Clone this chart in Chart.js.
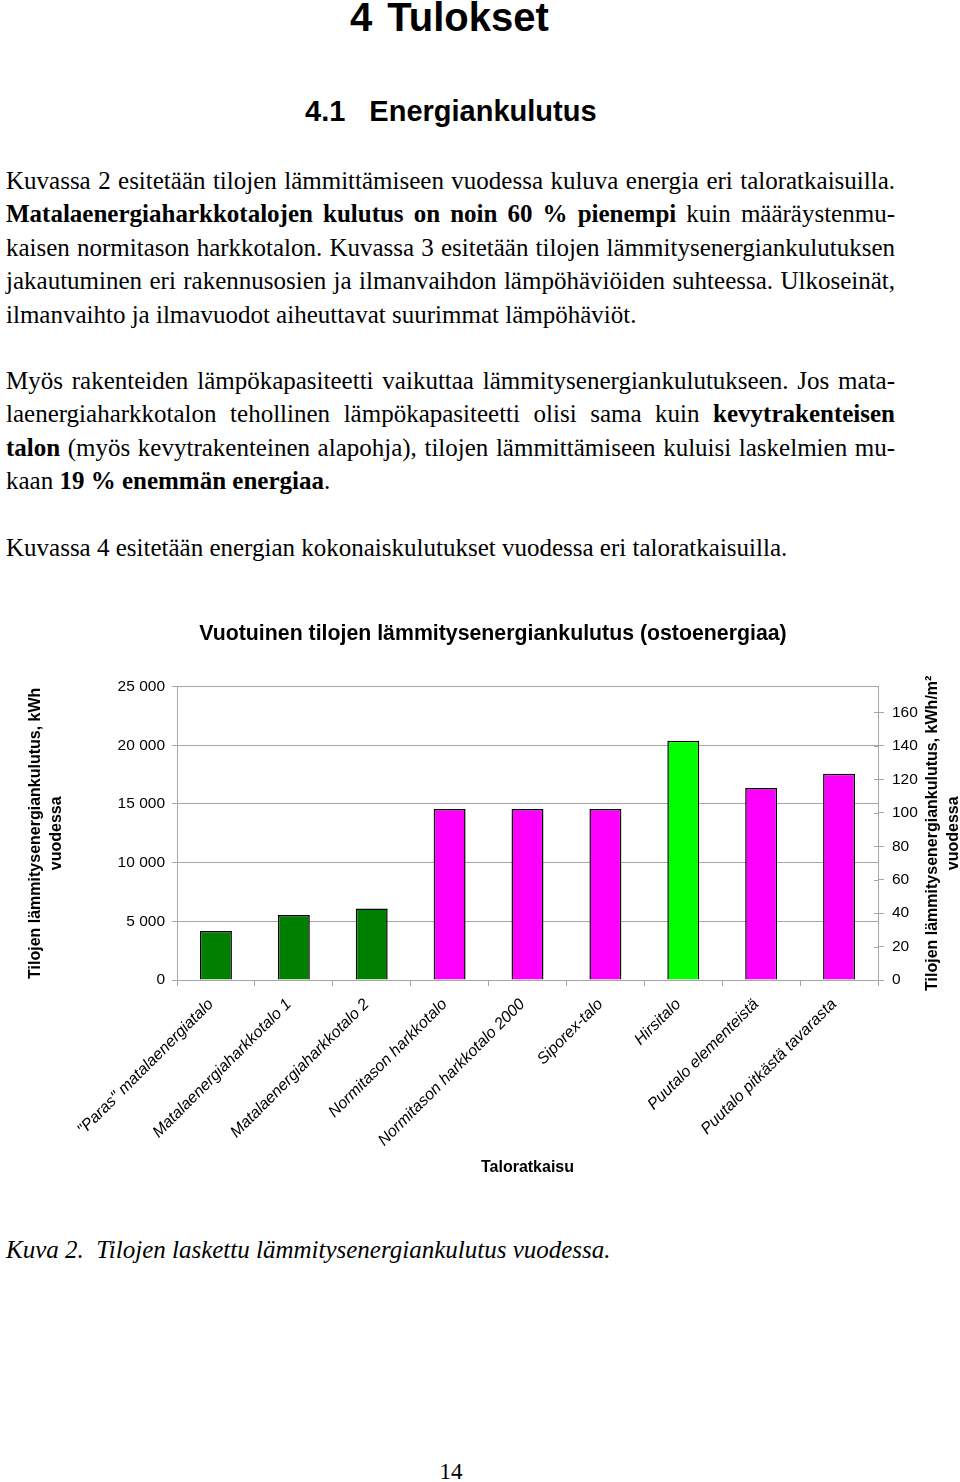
<!DOCTYPE html>
<html lang="fi">
<head>
<meta charset="utf-8">
<title>4 Tulokset</title>
<script src="https://cdn.jsdelivr.net/npm/chart.js@4.4.1/dist/chart.umd.min.js"></script>
<style>
  html, body { margin: 0; padding: 0; background: #fff; }
  body { width: 960px; height: 1482px; position: relative; overflow: hidden; color: #000; }
  .h1, .h2 { position: absolute; font-family: "Liberation Sans", Arial, sans-serif; font-weight: bold; white-space: nowrap; }
  .h1 { left: 350px; top: -5px; font-size: 40px; line-height: 44px; }
  .h2 { left: 305px; top: 94px; font-size: 29px; line-height: 34px; }
  .h1 span { margin-left: 15px; }
  .h2 span { margin-left: 24px; }
  .text { position: absolute; left: 6px; width: 889px; font-family: "Liberation Serif", "Times New Roman", serif; font-size: 25px; line-height: 33.4px; }
  .text div { text-align: justify; text-align-last: justify; white-space: nowrap; }
  .text div.last { text-align-last: left; }
  #chartBox { position: absolute; left: 0; top: 600px; width: 960px; height: 600px; }
  .caption { position: absolute; left: 6px; top: 1233px; font-family: "Liberation Serif", "Times New Roman", serif; font-style: italic; font-size: 25px; line-height: 34px; white-space: pre; }
  .pageno { position: absolute; left: 0; width: 902px; top: 1458px; text-align: center; font-family: "Liberation Serif", "Times New Roman", serif; font-size: 23px; line-height: 28px; }
</style>
</head>
<body>
<div class="h1">4<span>Tulokset</span></div>
<div class="h2">4.1<span>Energiankulutus</span></div>

<div class="text" style="top:164px">
  <div>Kuvassa 2 esitetään tilojen lämmittämiseen vuodessa kuluva energia eri taloratkaisuilla.</div>
  <div><b>Matalaenergiaharkkotalojen kulutus on noin 60 % pienempi</b> kuin määräystenmu-</div>
  <div>kaisen normitason harkkotalon. Kuvassa 3 esitetään tilojen lämmitysenergiankulutuksen</div>
  <div>jakautuminen eri rakennusosien ja ilmanvaihdon lämpöhäviöiden suhteessa. Ulkoseinät,</div>
  <div class="last">ilmanvaihto ja ilmavuodot aiheuttavat suurimmat lämpöhäviöt.</div>
</div>

<div class="text" style="top:364px">
  <div>Myös rakenteiden lämpökapasiteetti vaikuttaa lämmitysenergiankulutukseen. Jos mata-</div>
  <div>laenergiaharkkotalon tehollinen lämpökapasiteetti olisi sama kuin <b>kevytrakenteisen</b></div>
  <div><b>talon</b> (myös kevytrakenteinen alapohja), tilojen lämmittämiseen kuluisi laskelmien mu-</div>
  <div class="last">kaan <b>19 % enemmän energiaa</b>.</div>
</div>

<div class="text" style="top:531px">
  <div class="last">Kuvassa 4 esitetään energian kokonaiskulutukset vuodessa eri taloratkaisuilla.</div>
</div>

<div id="chartBox"><canvas id="energyChart"></canvas></div>

<div class="caption">Kuva 2.  Tilojen laskettu lämmitysenergiankulutus vuodessa.</div>
<div class="pageno">14</div>

<script>
// talotyypit
const categories = [
    '"Paras" matalaenergiatalo',
    'Matalaenergiaharkkotalo 1',
    'Matalaenergiaharkkotalo 2',
    'Normitason harkkotalo',
    'Normitason harkkotalo 2000',
    'Siporex-talo',
    'Hirsitalo',
    'Puutalo elementeistä',
    'Puutalo pitkästä tavarasta'
];
// kWh vuodessa (luettu kuvasta)
const heatingKWh = [4170, 5530, 6100, 14570, 14570, 14570, 20380, 16350, 17580];
const leftTicks = [0, 5000, 10000, 15000, 20000, 25000];
const rightTicks = [0, 20, 40, 60, 80, 100, 120, 140, 160];
const rightAxisMax = 175.5;

const barColors = ['#008000', '#008000', '#008000', '#ff00ff', '#ff00ff', '#ff00ff', '#00ff00', '#ff00ff', '#ff00ff'];
const gridColor = '#a6a6a6';
const rightTitle = ['Tilojen lämmitysenergiankulutus, kWh/m²', 'vuodessa'];

Chart.defaults.font.family = '"Liberation Sans", Arial, sans-serif';
Chart.defaults.color = '#000';

// oikean akselin otsikko ja sisäänpäin menevät tikit
const rightAxisExtras = {
    id: 'rightAxisExtras',
    afterDraw(chart) {
        const s = chart.scales.y1;
        const area = chart.chartArea;
        const ctx = chart.ctx;
        ctx.save();
        ctx.strokeStyle = gridColor;
        ctx.lineWidth = 1;
        s.ticks.forEach(t => {
            const y = Math.round(s.getPixelForValue(t.value)) + 0.5;
            ctx.beginPath();
            ctx.moveTo(s.left - 4, y);
            ctx.lineTo(s.left, y);
            ctx.stroke();
        });
        ctx.translate(s.left + 55, (area.top + area.bottom) / 2);
        ctx.rotate(-Math.PI / 2);
        ctx.font = 'bold 16px "Liberation Sans", Arial, sans-serif';
        ctx.fillStyle = '#000';
        ctx.textAlign = 'center';
        ctx.textBaseline = 'middle';
        ctx.fillText(rightTitle[0], 0, 0);
        ctx.fillText(rightTitle[1], 0, 21);
        ctx.restore();
    }
};

const ctx = document.getElementById('energyChart').getContext('2d');
const energyChart = new Chart(ctx, {
    type: 'bar',
    data: {
        labels: categories,
        datasets: [{
            data: heatingKWh,
            backgroundColor: barColors,
            borderColor: '#000',
            borderWidth: 1.5,
            barPercentage: 0.41,
            categoryPercentage: 1
        }]
    },
    options: {
        responsive: true,
        maintainAspectRatio: false,
        animation: false,
        layout: { padding: { left: 26, right: 0, top: 0, bottom: 0 } },
        plugins: {
            legend: { display: false },
            tooltip: { enabled: false },
            title: {
                display: true,
                text: 'Vuotuinen tilojen lämmitysenergiankulutus (ostoenergiaa)',
                font: { size: 21.3, weight: 'bold', lineHeight: 1.2 },
                padding: { top: 21, bottom: 40 }
            }
        },
        scales: {
            x: {
                grid: { offset: true, drawOnChartArea: false, color: gridColor, tickLength: 6 },
                border: { color: gridColor },
                ticks: {
                    maxRotation: 45,
                    minRotation: 45,
                    autoSkip: false,
                    padding: 9,
                    labelOffset: -5,
                    font: { size: 16, style: 'italic' }
                },
                title: {
                    display: true,
                    text: 'Taloratkaisu',
                    font: { size: 16, weight: 'bold' },
                    padding: { top: 0, bottom: 23 }
                },
                afterFit: s => { s.height = 220; }
            },
            y: {
                position: 'left',
                min: 0,
                max: 25000,
                afterBuildTicks: s => { s.ticks = leftTicks.map(v => ({ value: v })); },
                grid: { color: gridColor, tickLength: 5 },
                border: { color: gridColor },
                ticks: {
                    padding: 7,
                    font: { size: 15.5 },
                    callback: v => String(v).replace(/\B(?=(\d{3})+(?!\d))/g, ' ')
                },
                title: {
                    display: true,
                    text: ['Tilojen lämmitysenergiankulutus, kWh', 'vuodessa'],
                    font: { size: 16, weight: 'bold', lineHeight: 1.3125 },
                    padding: { top: -1, bottom: 0 }
                },
                afterFit: s => { s.width = 151; }
            },
            y1: {
                position: 'right',
                min: 0,
                max: rightAxisMax,
                afterBuildTicks: s => { s.ticks = rightTicks.map(v => ({ value: v })); },
                grid: { drawOnChartArea: false, color: gridColor, tickLength: 6 },
                border: { color: gridColor },
                ticks: { padding: 8, font: { size: 15.5 } },
                afterFit: s => { s.width = 82; }
            }
        }
    },
    plugins: [rightAxisExtras]
});
</script>
</body>
</html>
